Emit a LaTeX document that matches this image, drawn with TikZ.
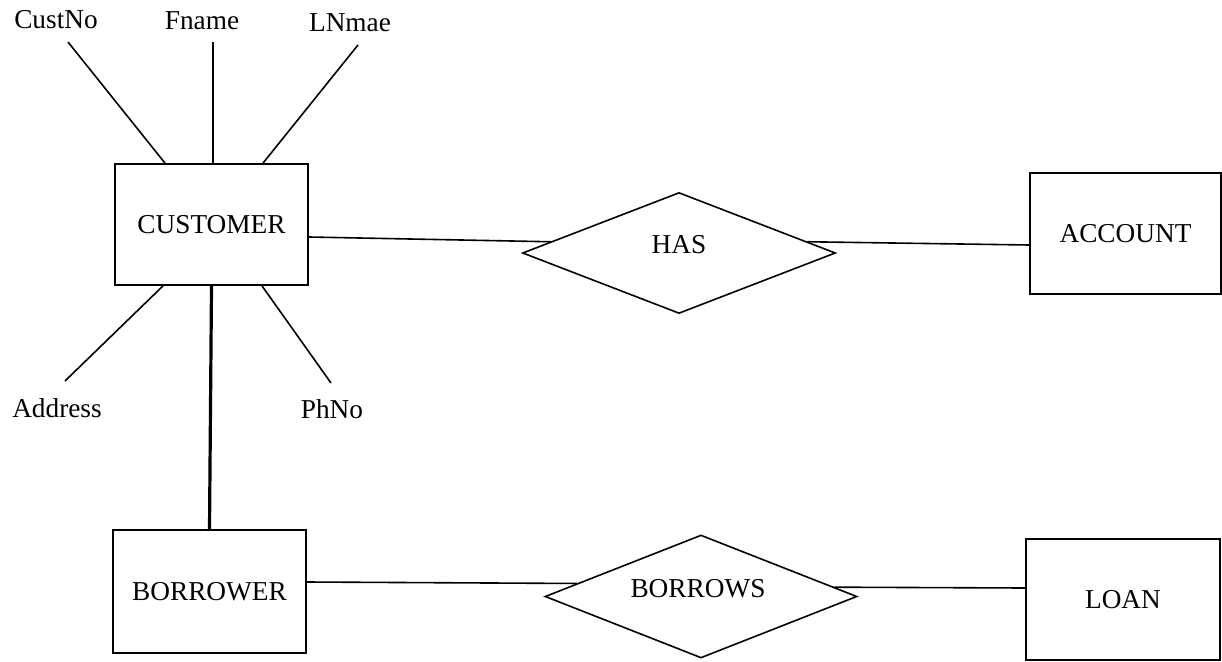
\documentclass[tikz,border=0pt]{standalone}
\usepackage{fontspec}
\setmainfont{Liberation Serif}
\usetikzlibrary{shapes.geometric}
\tikzset{
  entity/.style={draw, line width=1.8pt, inner sep=0pt, minimum width=193pt, minimum height=121pt},
  rel/.style={draw, diamond, line width=1.6pt, inner sep=0pt},
  attr/.style={inner sep=0pt, anchor=base},
  conn/.style={line width=1.6pt},
  thick conn/.style={line width=3.2pt}
}
\begin{document}
\begin{tikzpicture}[x=1pt,y=-1pt,font=\fontsize{27.3}{32}\selectfont]
\useasboundingbox (0,0) rectangle (1222,661);
% entities
\node[entity] (cust) at (211.5,224.5) {CUSTOMER};
\node[entity, minimum height=123pt] (borr) at (209.5,591.5) {BORROWER};
\node[entity, minimum width=191pt] (acc) at (1125.5,233.5) {ACCOUNT};
\node[entity, minimum width=194pt] (loan) at (1123,599.5) {LOAN};
% relationships
\node[rel, minimum width=313pt, minimum height=121pt] (has) at (679,253) {};
\node[inner sep=0pt] (hastxt) at ([yshift=8pt]has.center) {HAS};
\node[rel, minimum width=312pt, minimum height=123pt] (bws) at (701,596.5) {};
\node[inner sep=0pt] (bwstxt) at ([xshift=-3pt,yshift=8pt]bws.center) {BORROWS};
% attributes
\node[attr] (custno) at (56,29) {CustNo};
\node[attr] (fname) at (202,30) {Fname};
\node[attr] (lname) at (350,32) {LNmae};
\node[attr] (addr) at (57,417) {Address};
\node[attr] (phno) at (332,418) {PhNo};
% attribute lines
\draw[conn] ([xshift=12pt,yshift=-13pt]custno.base) -- ([xshift=-46.5pt]cust.north);
\draw[conn] ([xshift=11pt,yshift=-12pt]fname.base) -- ([xshift=1.5pt]cust.north);
\draw[conn] ([xshift=8pt,yshift=-13pt]lname.base) -- ([xshift=51.5pt]cust.north);
\draw[conn] ([xshift=-48.5pt]cust.south) -- ([xshift=8pt,yshift=36pt]addr.base);
\draw[conn] ([xshift=50.5pt]cust.south) -- ([xshift=-1pt,yshift=35pt]phno.base);
% link to borrower
\draw[thick conn] (cust.south) -- (borr.north);
% relationship lines
\draw[conn] ([yshift=-12.5pt]cust.east) -- (has.175);
\draw[conn] (has.5) -- ([yshift=-11.5pt]acc.west);
\draw[conn] ([yshift=9.5pt]borr.east) -- (bws.174);
\draw[conn] (bws.4.5) -- ([yshift=11.5pt]loan.west);
\end{tikzpicture}
\end{document}
